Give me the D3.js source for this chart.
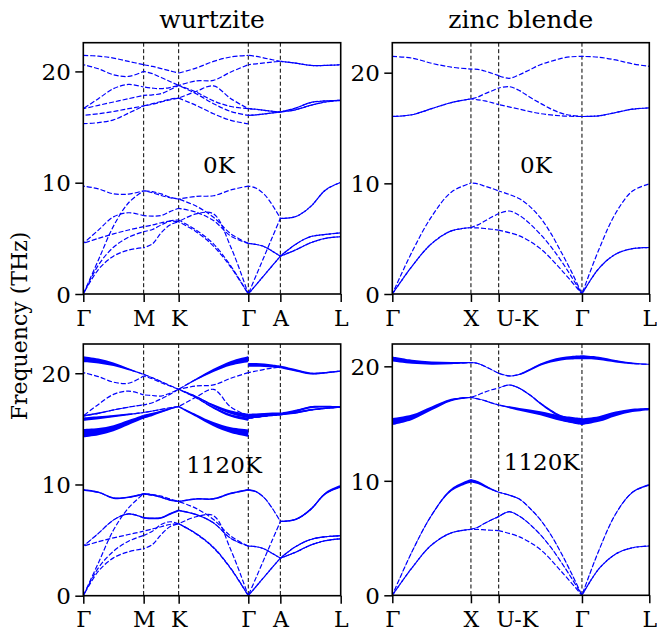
<!DOCTYPE html>
<html><head><meta charset="utf-8">
<script src="https://cdn.jsdelivr.net/npm/d3@7"></script>
<style>body{margin:0;background:#fff} text{font-family:"DejaVu Serif",serif;fill:#000}</style>
</head><body><svg id="c" width="657" height="633" xmlns="http://www.w3.org/2000/svg"></svg>
<script>
// ---------- high-symmetry paths ----------
const wzLabels = ["Γ","M","K","Γ","A","L"];
const wzTicks  = [0, 0.2345, 0.3705, 0.641, 0.7655, 1];
const zbLabels = ["Γ","X","U-K","Γ","L"];
const zbTicks  = [0, 0.306, 0.414, 0.738, 1];
const yTickValues = [0, 10, 20];

// ---------- wurtzite 0K : per segment, per curve frequencies (THz) ----------
const wz0K = [
 [ // Γ-M
  [21.44,21.37,21.2,20.9,20.6],[20.6,20.24,19.7,19.55,20.0],[16.65,17.55,18.45,18.83,18.6],
  [16.65,16.95,17.25,17.55,17.84],[16.05,16.2,16.4,16.65,16.9],[15.3,15.4,15.65,16.25,16.9],
  [9.7,9.45,9.0,8.98,9.28],[0,3.05,6.1,8.2,9.28],[4.55,5.74,6.93,7.3,7.04],
  [4.55,5.0,5.4,5.75,6.05],[0,2.6,4.2,5.1,5.6],[0,2.2,3.4,3.95,4.16]],
 [ // M-K
  [20.6,20.45,20.25,20.05,19.85],[20.0,19.8,19.45,19.1,18.74],[18.6,18.5,18.45,18.55,18.74],
  [17.84,17.9,18.0,18.35,18.74],[16.9,17.05,17.25,17.45,17.6],[16.9,17.1,17.3,17.5,17.6],
  [9.28,9.1,8.85,8.65,8.53],[9.28,9.2,9.0,8.7,8.53],[7.04,7.0,7.05,7.4,7.7],
  [6.05,6.2,6.4,6.55,6.5],[5.6,5.8,6.2,6.55,6.65],[4.16,4.5,5.5,6.2,6.5]],
 [ // K-Γ
  [19.85,20.3,20.9,21.3,21.44],[18.74,19.15,19.2,19.95,20.6],[17.6,18.2,18.7,17.55,16.65],
  [18.74,18.15,17.35,16.85,16.65],[18.74,18.0,17.1,16.4,16.05],[17.6,16.95,16.2,15.6,15.3],
  [8.53,8.77,8.83,9.35,9.7],[8.53,7.9,6.9,5.4,4.55],[7.7,7.35,6.6,5.2,4.55],
  [6.5,7.2,7.2,4.2,0],[6.65,5.75,4.5,2.5,0],[6.5,5.6,4.3,2.4,0]],
 [ // Γ-A
  [21.44,21.35,21.2,21.05,20.9],[20.6,20.68,20.76,20.84,20.9],[16.65,16.6,16.5,16.42,16.35],
  [16.65,16.6,16.5,16.42,16.35],[16.05,16.1,16.18,16.27,16.35],[16.05,16.1,16.18,16.27,16.35],
  [9.7,9.5,8.95,8.0,6.8],[0,1.7,3.4,5.1,6.8],[4.55,4.45,4.25,3.85,3.4],
  [4.55,4.45,4.25,3.85,3.4],[0,0.85,1.7,2.55,3.4],[0,0.85,1.7,2.55,3.4]],
 [ // A-L
  [20.9,20.75,20.54,20.54,20.6],[20.9,20.75,20.54,20.54,20.6],[16.35,16.7,17.2,17.35,17.4],
  [16.35,16.7,17.2,17.35,17.4],[16.35,16.55,16.95,17.25,17.4],[16.35,16.55,16.95,17.25,17.4],
  [6.8,6.95,7.85,9.35,10.03],[6.8,6.95,7.85,9.35,10.03],[3.4,4.45,5.15,5.35,5.5],
  [3.4,4.45,5.15,5.35,5.5],[3.4,3.95,4.6,5.0,5.15],[3.4,3.95,4.6,5.0,5.15]]
];

// ---------- zinc blende 0K ----------
const zb0K = [
 [ // Γ-X
  [21.47,21.32,20.85,20.5,20.33],[16.04,16.2,16.75,17.3,17.63],[16.04,16.2,16.75,17.3,17.63],
  [0,3.8,7.0,9.2,10.03],[0,2.5,4.55,5.7,6.0],[0,2.5,4.55,5.7,6.0]],
 [ // X-U/K
  [20.33,20.3,20.15,19.95,19.73],[17.63,17.8,18.1,18.35,18.62],[17.63,17.55,17.45,17.3,17.12],
  [10.03,9.95,9.75,9.55,9.31],[6.0,6.25,6.6,6.95,7.27],[6.0,5.97,5.92,5.85,5.77]],
 [ // K-Γ
  [19.73,19.49,19.82,20.27,20.72,21.02,21.29,21.44,21.47],
  [18.62,18.74,18.38,17.78,17.24,16.73,16.34,16.13,16.04],
  [17.12,16.7,16.3,16.1,16.04],
  [9.31,9.0,8.6,7.9,6.9,5.5,3.8,2.0,0],
  [7.27,7.5,7.1,6.35,5.4,4.3,3.0,1.55,0],
  [5.77,5.25,4.1,2.2,0]],
 [ // Γ-L
  [21.47,21.4,21.15,20.8,20.57],[16.04,16.1,16.4,16.7,16.82],[16.04,16.1,16.4,16.7,16.82],
  [0,4.0,7.3,9.3,9.94],[0,2.3,3.6,4.1,4.2],[0,2.3,3.6,4.1,4.2]]
];

// ---------- wurtzite 1120K : f = frequencies, w = linewidth (THz) at segment ends ----------
const wz1120K = [
 [ // Γ-M
  {f:[21.26,21.1,20.8,20.36,19.9],w:[0.55,0.08]},{f:[20.06,19.7,19.2,19.1,19.76],w:[0.03,0.03]},
  {f:[16.17,17.2,18.1,18.4,18.05],w:[0.05,0.05]},{f:[16.17,16.4,16.7,16.95,17.16],w:[0.15,0.05]},
  {f:[15.87,16.0,16.15,16.3,16.47],w:[0.3,0.1]},{f:[14.61,14.75,15.06,15.57,16.1],w:[0.75,0.35]},
  {f:[9.52,9.3,8.78,8.85,9.16],w:[0.15,0.15]},{f:[0,2.95,5.9,7.9,9.16],w:[0.02,0.04]},
  {f:[4.46,5.6,6.8,7.35,7.0],w:[0.03,0.15]},{f:[4.46,4.85,5.2,5.5,5.8],w:[0.03,0.03]},
  {f:[0,2.5,4.0,4.9,5.42],w:[0.02,0.03]},{f:[0,2.2,3.4,3.95,4.22],w:[0.02,0.03]}],
 [ // M-K
  {f:[19.9,19.6,19.25,18.9,18.56],w:[0.08,0.04]},{f:[19.76,19.5,19.15,18.85,18.56],w:[0.03,0.03]},
  {f:[18.05,18.0,17.95,18.2,18.56],w:[0.05,0.03]},{f:[17.16,17.35,17.7,18.1,18.56],w:[0.05,0.03]},
  {f:[16.47,16.6,16.75,16.9,17.0],w:[0.1,0.05]},{f:[16.1,16.3,16.55,16.8,17.0],w:[0.35,0.08]},
  {f:[9.16,9.05,8.85,8.6,8.47],w:[0.15,0.12]},{f:[9.16,9.1,8.95,8.7,8.47],w:[0.04,0.04]},
  {f:[7.0,6.95,7.0,7.35,7.66],w:[0.15,0.18]},{f:[5.8,6.0,6.2,6.4,6.47],w:[0.03,0.03]},
  {f:[5.42,5.8,6.4,6.65,6.47],w:[0.03,0.05]},{f:[4.22,4.6,5.5,6.2,6.47],w:[0.03,0.05]}],
 [ // K-Γ
  {f:[18.56,19.45,20.25,20.9,21.26],w:[0.04,0.55]},{f:[18.56,18.85,18.95,19.55,20.06],w:[0.03,0.03]},
  {f:[17.0,17.85,18.55,16.95,16.17],w:[0.03,0.05]},{f:[18.56,17.9,17.1,16.5,16.17],w:[0.04,0.4]},
  {f:[18.56,17.8,16.9,16.2,15.87],w:[0.04,0.3]},{f:[17.0,16.2,15.42,14.88,14.61],w:[0.1,0.65]},
  {f:[8.47,8.7,8.71,9.2,9.52],w:[0.12,0.15]},{f:[8.47,7.85,6.85,5.35,4.46],w:[0.03,0.03]},
  {f:[7.66,7.3,6.55,5.15,4.46],w:[0.15,0.05]},{f:[6.47,7.1,7.2,4.1,0],w:[0.05,0.03]},
  {f:[6.47,5.6,4.35,2.45,0],w:[0.1,0.08]},{f:[6.47,5.55,4.3,2.4,0],w:[0.03,0.03]}],
 [ // Γ-A
  {f:[20.75,20.75,20.72,20.65,20.57],w:[0.35,0.25]},{f:[20.06,20.2,20.35,20.47,20.57],w:[0.03,0.05]},
  {f:[16.17,16.2,16.25,16.3,16.32],w:[0.4,0.3]},{f:[16.17,16.2,16.25,16.3,16.32],w:[0.3,0.2]},
  {f:[15.95,16.05,16.15,16.25,16.32],w:[0.1,0.1]},{f:[15.95,16.05,16.15,16.25,16.32],w:[0.1,0.1]},
  {f:[9.52,9.35,8.8,7.85,6.68],w:[0.15,0.05]},{f:[0,1.67,3.34,5.0,6.68],w:[0.02,0.03]},
  {f:[4.46,4.4,4.2,3.8,3.38],w:[0.05,0.05]},{f:[4.46,4.4,4.2,3.8,3.38],w:[0.03,0.03]},
  {f:[0,0.85,1.7,2.55,3.38],w:[0.03,0.05]},{f:[0,0.85,1.7,2.55,3.38],w:[0.03,0.05]}],
 [ // A-L
  {f:[20.57,20.27,19.98,20.05,20.2],w:[0.25,0.1]},{f:[20.57,20.27,19.98,20.05,20.2],w:[0.05,0.03]},
  {f:[16.32,16.6,16.95,17.0,16.98],w:[0.25,0.12]},{f:[16.32,16.6,16.95,17.0,16.98],w:[0.1,0.05]},
  {f:[16.32,16.45,16.7,16.85,16.95],w:[0.2,0.1]},{f:[16.32,16.45,16.7,16.85,16.95],w:[0.1,0.05]},
  {f:[6.68,6.85,7.75,9.2,9.82],w:[0.12,0.25]},{f:[6.68,6.85,7.75,9.2,9.82],w:[0.05,0.05]},
  {f:[3.38,4.4,5.05,5.3,5.39],w:[0.05,0.08]},{f:[3.38,4.4,5.05,5.3,5.39],w:[0.03,0.05]},
  {f:[3.38,3.9,4.55,4.95,5.12],w:[0.05,0.08]},{f:[3.38,3.9,4.55,4.95,5.12],w:[0.03,0.05]}]
];

// ---------- zinc blende 1120K ----------
const zb1120K = [
 [ // Γ-X
  {f:[20.64,20.4,20.28,20.28,20.32],w:[0.45,0.1]},{f:[15.17,15.55,16.33,17.06,17.29],w:[0.6,0.08]},
  {f:[15.17,15.55,16.33,17.06,17.29],w:[0.3,0.04]},{f:[0,3.8,7.0,9.2,10.01],w:[0.03,0.3]},
  {f:[0,2.4,4.4,5.45,5.76],w:[0.03,0.05]},{f:[0,2.4,4.4,5.45,5.76],w:[0.03,0.05]}],
 [ // X-U/K
  {f:[20.32,20.25,20.0,19.7,19.39],w:[0.1,0.04]},{f:[17.29,17.5,17.75,17.95,18.1],w:[0.06,0.04]},
  {f:[17.29,17.15,17.0,16.8,16.62],w:[0.06,0.1]},{f:[10.01,9.85,9.55,9.25,9.0],w:[0.3,0.12]},
  {f:[5.76,5.95,6.3,6.6,6.87],w:[0.05,0.1]},{f:[5.76,5.75,5.72,5.68,5.65],w:[0.05,0.04]}],
 [ // K-Γ
  {f:[19.39,19.16,19.3,19.7,20.15,20.45,20.65,20.75,20.79],w:[0.04,0.35]},
  {f:[18.1,18.37,18.08,17.5,16.77,16.13,15.6,15.31,15.17],w:[0.04,0.3]},
  {f:[16.62,16.24,15.9,15.46,15.17],w:[0.1,0.6]},
  {f:[9.0,8.75,8.4,7.6,6.6,5.3,3.7,1.9,0],w:[0.1,0.03]},
  {f:[6.87,7.3,6.9,6.2,5.3,4.2,2.9,1.5,0],w:[0.1,0.03]},
  {f:[5.65,5.1,4.0,2.1,0],w:[0.04,0.03]}],
 [ // Γ-L
  {f:[20.79,20.7,20.45,20.25,20.17],w:[0.35,0.08]},{f:[15.17,15.4,15.85,16.15,16.27],w:[0.6,0.2]},
  {f:[15.17,15.4,15.85,16.15,16.27],w:[0.3,0.1]},{f:[0,3.9,7.1,9.0,9.64],w:[0.03,0.15]},
  {f:[0,2.3,3.6,4.15,4.31],w:[0.03,0.06]},{f:[0,2.3,3.6,4.15,4.31],w:[0.03,0.06]}]
];

// ---------- layout ----------
const panels = [
 {x:83.3,  y:42.7, w:257.4, h:251.3, ymax:22.58, ticks:wzTicks, labels:wzLabels, data:wz0K,    temp:"0K",    tk:0.527, tf:10.9,  title:"wurtzite"},
 {x:392.3, y:42.7, w:257.0, h:251.3, ymax:22.71, ticks:zbTicks, labels:zbLabels, data:zb0K,    temp:"0K",    tk:0.559, tf:10.96, title:"zinc blende"},
 {x:83.3,  y:344,  w:257.4, h:251.7, ymax:22.63, ticks:wzTicks, labels:wzLabels, data:wz1120K, temp:"1120K", tk:0.547, tf:11.0},
 {x:392.3, y:344,  w:257.0, h:251.3, ymax:21.95, ticks:zbTicks, labels:zbLabels, data:zb1120K, temp:"1120K", tk:0.581, tf:10.94}
];
const blue = "#0000ff";
const svg = d3.select("#c");
const defs = svg.append("defs");

panels.forEach((p, pi) => {
  const x = d3.scaleLinear().domain([0,1]).range([p.x, p.x + p.w]);
  const y = d3.scaleLinear().domain([0,p.ymax]).range([p.y + p.h, p.y]);
  defs.append("clipPath").attr("id","clip"+pi).append("rect")
    .attr("x",p.x).attr("y",p.y).attr("width",p.w).attr("height",p.h);
  const g = svg.append("g");
  const plot = g.append("g").attr("clip-path",`url(#clip${pi})`);

  // vertical dashed lines at interior high-symmetry points
  plot.selectAll("line.vl").data(p.ticks.slice(1,-1)).enter().append("line")
    .attr("x1",d=>x(d)).attr("x2",d=>x(d)).attr("y1",p.y).attr("y2",p.y+p.h)
    .attr("stroke","#000").attr("stroke-width",1).attr("stroke-dasharray","4,2.5");

  const curve = d3.curveCatmullRom.alpha(0.5);
  const line = d3.line().x(d=>x(d.k)).y(d=>y(d.f)).curve(curve);
  const area = d3.area().x(d=>x(d.k)).y0(d=>y(d.f - d.w/2)).y1(d=>y(d.f + d.w/2)).curve(curve);
  let ci = 0;
  p.data.forEach((seg, si) => {
    const k0 = p.ticks[si], k1 = p.ticks[si+1];
    seg.forEach(c => {
      const f = Array.isArray(c) ? c : c.f;
      const w = Array.isArray(c) ? [0,0] : c.w;
      const n = f.length;
      const pts = f.map((v,i) => ({k: k0 + (k1-k0)*i/(n-1), f: v, w: w[0] + (w[1]-w[0])*i/(n-1)}));
      if (Math.max(w[0], w[1]) > 0.06) {
        plot.append("path").datum(pts).attr("d", area).attr("fill", blue);
      }
      plot.append("path").datum(pts).attr("d", line).attr("fill","none")
        .attr("stroke", blue).attr("stroke-width", 1.2)
        .attr("stroke-dasharray","5,2").attr("stroke-dashoffset", (ci*2.9) % 7);
      ci++;
    });
  });

  // axes
  const ya = g.append("g").attr("transform",`translate(${p.x},0)`)
    .call(d3.axisLeft(y).tickValues(yTickValues).tickSize(8).tickPadding(4.5).tickFormat(d3.format("d")));
  const xa = g.append("g").attr("transform",`translate(0,${p.y+p.h})`)
    .call(d3.axisBottom(x).tickValues(p.ticks).tickSize(8).tickFormat((d,i)=>p.labels[i]));
  [ya, xa].forEach(a => {
    a.select(".domain").remove();
    a.selectAll(".tick line").attr("stroke","#000").attr("stroke-width",1.5);
    a.selectAll(".tick text").attr("font-family","DejaVu Serif").attr("fill","#000");
  });
  ya.selectAll(".tick text").attr("font-size",23).attr("dy","0.36em");
  xa.selectAll(".tick text").attr("font-size",22).attr("y",31.5).attr("dy",0);
  // the "U-K" label sits just right of its tick, as in the original
  xa.selectAll(".tick text").filter((d,i)=>p.labels[i]==="U-K")
    .attr("text-anchor","start").attr("x",-3);

  // frame
  g.append("rect").attr("x",p.x).attr("y",p.y).attr("width",p.w).attr("height",p.h)
    .attr("fill","none").attr("stroke","#000").attr("stroke-width",1.6);

  // temperature label
  g.append("text").attr("x", x(p.tk)).attr("y", y(p.tf)).attr("text-anchor","middle")
    .attr("font-size",23).text(p.temp);

  if (p.title) {
    g.append("text").attr("x", p.x + p.w/2).attr("y", 28).attr("text-anchor","middle")
      .attr("font-size",25).text(p.title);
  }
});

svg.append("text").attr("transform","translate(27,326) rotate(-90)")
  .attr("text-anchor","middle").attr("font-size",22).text("Frequency (THz)");
</script>
</body></html>
